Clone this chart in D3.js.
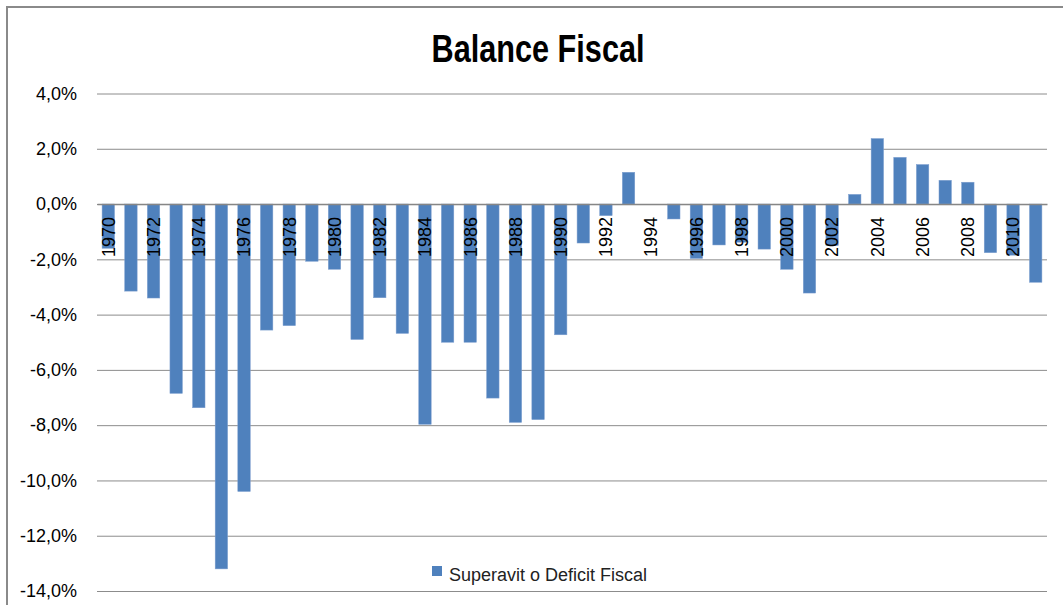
<!DOCTYPE html>
<html>
<head>
<meta charset="utf-8">
<script src="https://cdn.jsdelivr.net/npm/d3@7"></script>
<style>
  body { margin: 0; background: #fff; }
  svg { display: block; font-family: "Liberation Sans", Arial, sans-serif; }
</style>
</head>
<body>
<svg width="1063" height="605"></svg>
<script>
// Balance fiscal, % del PIB, 1970-2011
var years = d3.range(1970, 2012);
var balance = [-1.6, -3.15, -3.4, -6.85, -7.37, -13.2, -10.4, -4.56, -4.4, -2.07,
  -2.36, -4.9, -3.39, -4.68, -7.97, -5.0, -5.0, -7.02, -7.9, -7.8,
  -4.73, -1.41, -0.42, 1.15, 0, -0.54, -1.97, -1.48, -1.38, -1.63,
  -2.36, -3.22, -1.5, 0.35, 2.37, 1.69, 1.43, 0.86, 0.79, -1.76,
  -1.85, -2.83];
var yTicks = [4, 2, 0, -2, -4, -6, -8, -10, -12, -14];
var seriesName = "Superavit o Deficit Fiscal";

var data = years.map(function(y, i) { return {year: y, value: balance[i]}; });

// plot area (window.top is reserved, so use a margin object)
var svg = d3.select("svg"),
    plot = {left: 97, right: 1047, top: 93.5, bottom: 591};

var blue = "#4f81bd", grid = "#8c8c8c";

// chart frame
svg.append("rect")
  .attr("x", 7).attr("y", 7)
  .attr("width", 1200).attr("height", 800)
  .attr("fill", "none")
  .attr("stroke", "#8a8a8a")
  .attr("stroke-width", 2);

svg.append("text")
  .attr("x", 538)
  .attr("y", 62)
  .attr("text-anchor", "middle")
  .attr("font-size", 38)
  .attr("font-weight", "bold")
  .attr("textLength", 213)
  .attr("lengthAdjust", "spacingAndGlyphs")
  .text("Balance Fiscal");

var x = d3.scaleBand()
  .domain(years)
  .range([plot.left, plot.right])
  .paddingInner(0.45)
  .paddingOuter(0.225);

var y = d3.scaleLinear()
  .domain([-14, 4])
  .range([plot.bottom, plot.top]);

var locale = d3.formatLocale({decimal: ",", thousands: ".", grouping: [3], currency: ["", ""], minus: "-"});
var fmt = locale.format(".1f");

// y axis with gridlines
var yAxis = svg.append("g")
  .attr("transform", "translate(" + plot.left + ",0)")
  .call(d3.axisLeft(y)
    .tickValues(yTicks)
    .tickSize(-(plot.right - plot.left))
    .tickPadding(20)
    .tickFormat(function(d) { return fmt(d) + "%"; }));
yAxis.select(".domain").remove();
yAxis.selectAll(".tick line").attr("stroke", grid).attr("stroke-width", 1);
yAxis.selectAll(".tick text")
  .attr("font-size", 18)
  .attr("fill", "#000")
  .attr("font-family", "Liberation Sans, Arial, sans-serif");

// bars
svg.append("g")
  .selectAll("rect")
  .data(data)
  .enter().append("rect")
    .attr("x", function(d) { return x(d.year); })
    .attr("y", function(d) { return y(Math.max(0, d.value)); })
    .attr("width", x.bandwidth())
    .attr("height", function(d) { return Math.abs(y(d.value) - y(0)); })
    .attr("fill", blue)
    .attr("stroke", "#7f9fcf")
    .attr("stroke-width", 0.5);

// x axis on the zero line
var xAxis = svg.append("g")
  .attr("transform", "translate(0," + y(0) + ")")
  .call(d3.axisBottom(x)
    .tickSize(0)
    .tickSizeOuter(0)
    .tickFormat(function(d) { return d % 2 === 0 ? d : ""; }));
xAxis.select(".domain")
  .attr("stroke", "#868686")
  .attr("stroke-width", 1.5);
xAxis.selectAll(".tick text")
  .attr("font-size", 18)
  .attr("fill", "#000")
  .attr("font-family", "Liberation Sans, Arial, sans-serif")
  .attr("text-anchor", "end")
  .attr("transform", "rotate(-90)")
  .attr("x", -13)
  .attr("y", 0)
  .attr("dy", "0.35em");

// legend
var legend = svg.append("g")
  .attr("transform", "translate(432,566)");
legend.append("rect")
  .attr("width", 10)
  .attr("height", 10)
  .attr("fill", blue);
legend.append("text")
  .attr("x", 17)
  .attr("y", 15)
  .attr("font-size", 18)
  .attr("fill", "#222")
  .text(seriesName);
</script>
</body>
</html>
